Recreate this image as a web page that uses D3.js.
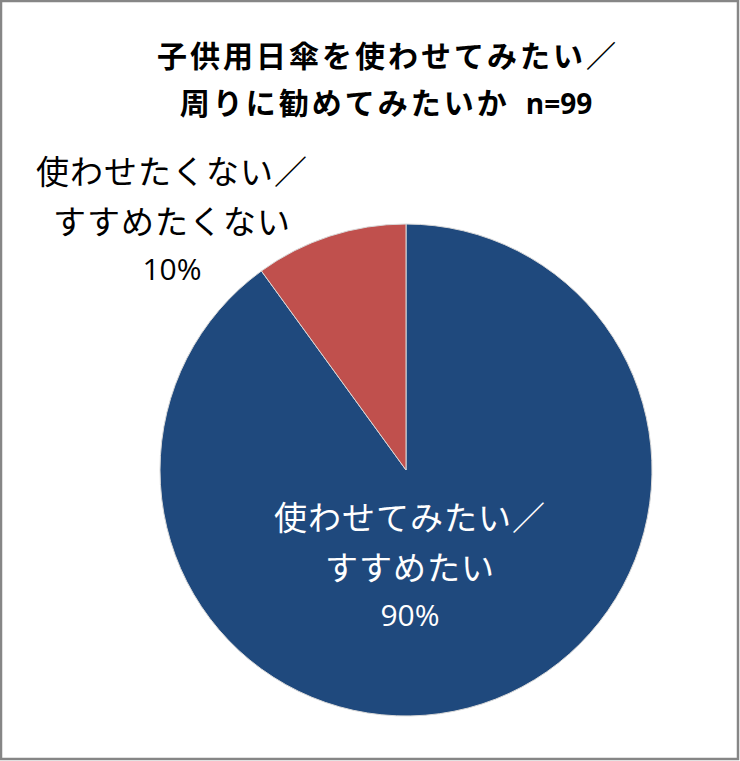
<!DOCTYPE html>
<html>
<head>
<meta charset="utf-8">
<script src="https://cdn.jsdelivr.net/npm/d3@7"></script>
<style>
  html, body { margin: 0; padding: 0; background: #fff; }
  svg { display: block; }
</style>
</head>
<body>
<svg id="chart"></svg>
<script>
// chart data
const titleLines = ["子供用日傘を使わせてみたい／", "周りに勧めてみたいか"];
const sampleSize = "n=99";
const categories = ["使わせてみたい／すすめたい", "使わせたくない／すすめたくない"];
const values = [90, 10];
const labelLines = [["使わせてみたい／", "すすめたい"], ["使わせたくない／", "すすめたくない"]];
const colors = ["#1F497D", "#C0504D"];

window.addEventListener('load', e => {
    drawPie();
});

function drawPie() {
    let width = 740;
    let height = 761;
    let cx = 406;
    let cy = 470;
    let radius = 246;
    let jpFont = "'Noto Sans CJK JP', 'Noto Sans', sans-serif";

    let svg = d3.select("#chart")
                .attr("width", width)
                .attr("height", height);

    svg.append("rect")
       .attr("x", 1)
       .attr("y", 1)
       .attr("width", width - 3)
       .attr("height", height - 3)
       .attr("fill", "#fff")
       .attr("stroke", "#868686")
       .attr("stroke-width", 2.5);

    // title, two lines; n=99 tucked at the end of the second
    let title = svg.append("g")
                   .attr("font-family", jpFont)
                   .attr("font-weight", "bold")
                   .attr("font-size", 30)
                   .attr("text-anchor", "middle")
                   .attr("fill", "#000");

    title.append("text")
         .attr("x", 388)
         .attr("y", 67)
         .attr("letter-spacing", 3)
         .text(titleLines[0]);

    let t2 = title.append("text")
                  .attr("x", 386)
                  .attr("y", 114);
    t2.append("tspan")
      .attr("letter-spacing", 3)
      .text(titleLines[1]);
    t2.append("tspan")
      .attr("dx", 16)
      .attr("font-family", "'Open Sans', 'Liberation Sans', sans-serif")
      .attr("font-size", 28)
      .text(sampleSize);

    let pie = d3.pie().sort(null).value(d => d);
    let arcs = pie(values);
    let arc = d3.arc().innerRadius(0).outerRadius(radius);

    let g = svg.append("g")
               .attr("transform", "translate(" + cx + "," + cy + ")");

    g.selectAll(".slice")
     .data(arcs)
     .enter()
     .append("path")
     .attr("class", "slice")
     .attr("d", arc)
     .attr("fill", (d, i) => colors[i])
     .attr("stroke", "#d9d9d9")
     .attr("stroke-width", 1);

    // data labels: inside for the big slice, outside top-left for the small one
    let labelPos = [
        { x: 410, y: 530, color: "#fff" },
        { x: 172, y: 184, color: "#000" }
    ];

    labelPos.forEach((p, i) => {
        let t = svg.append("text")
                   .attr("font-family", jpFont)
                   .attr("font-size", 33)
                   .attr("letter-spacing", 1)
                   .attr("text-anchor", "middle")
                   .attr("fill", p.color);
        labelLines[i].forEach((line, j) => {
            t.append("tspan")
             .attr("x", p.x)
             .attr("y", p.y + j * 50)
             .text(line);
        });
        t.append("tspan")
         .attr("x", p.x)
         .attr("y", p.y + 96)
         .attr("font-family", "'Open Sans', 'Liberation Sans', sans-serif")
         .attr("font-size", 30)
         .attr("letter-spacing", 0)
         .text(d3.format(".0%")(values[i] / d3.sum(values)));
    });
}
</script>
</body>
</html>
